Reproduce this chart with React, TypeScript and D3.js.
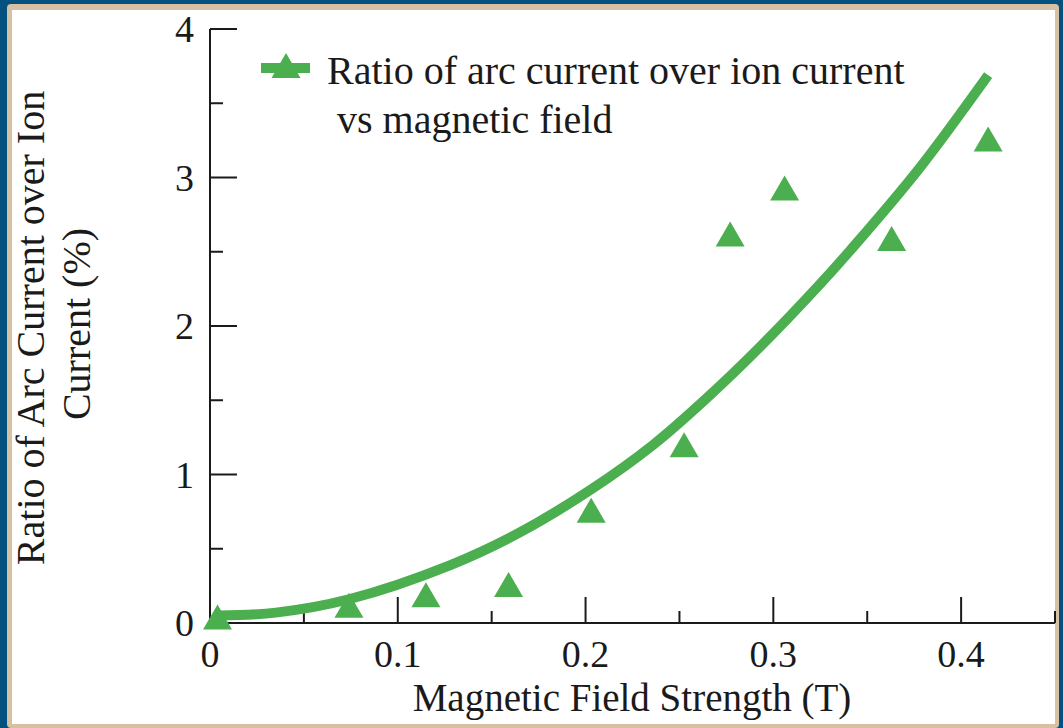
import * as d3 from 'd3'

// measured points: magnetic field (T) vs ratio (%)
const fieldT = [0.004, 0.074, 0.115, 0.159, 0.203, 0.2525, 0.277, 0.306, 0.363, 0.4144]
const ratioPct = [0.04, 0.12, 0.19, 0.26, 0.76, 1.2, 2.62, 2.93, 2.59, 3.26]

// trend line
const fitT = [0.005, 0.035, 0.074, 0.128, 0.165, 0.203, 0.236, 0.265, 0.293, 0.324, 0.341, 0.377, 0.4144]
const fitR = [0.05, 0.07, 0.16, 0.39, 0.61, 0.9, 1.2, 1.52, 1.86, 2.27, 2.51, 3.05, 3.69]

const xMajor = [0, 0.1, 0.2, 0.3, 0.4]
const xMinor = [0.05, 0.15, 0.25, 0.35, 0.45]
const yMajor = [0, 1, 2, 3, 4]
const yMinor = [0.5, 1.5, 2.5, 3.5]

const legendLines = ['Ratio of arc current over ion current', 'vs magnetic field']
const xTitle = 'Magnetic Field Strength (T)'
const yTitle = ['Ratio of Arc Current over Ion', 'Current (%)']

const W = 1063
const H = 728
const GREEN = '#4caf4f'
const INK = '#1a1a1a'
const FONT = '"Liberation Serif", "Times New Roman", serif'

const tri = (w: number, h: number) => `M0,${-h / 2}L${w / 2},${h / 2}L${-w / 2},${h / 2}Z`

export default function App() {
  const x = d3.scaleLinear().domain([0, 0.45]).range([210, 1055])
  const y = d3.scaleLinear().domain([0, 4]).range([623, 29])

  const pts = fieldT.map((t, i) => ({ t, r: ratioPct[i] }))
  const fit = fitT.map((t, i) => ({ t, r: fitR[i] }))
  const line = d3.line<{ t: number; r: number }>()
    .x(d => x(d.t)).y(d => y(d.r))
    .curve(d3.curveCatmullRom.alpha(0.5))

  const fmt = (d: number) => (d === 0 ? '0' : d3.format('.1f')(d))

  return (
    <svg width={W} height={H} style={{ position: 'absolute', left: 0, top: 0 }} fontFamily={FONT}>
      {/* frame */}
      <rect x={0} y={0} width={W} height={H} fill="#04507f" />
      <rect x={7} y={4} width={1052} height={H - 4} rx={4} fill="#d6c2a2" />
      <rect x={12} y={10} width={1043} height={714} fill="#ffffff" />

      {/* axes */}
      <g stroke={INK} strokeWidth={2} fill="none">
        <line x1={x(0)} x2={x(0.45)} y1={y(0)} y2={y(0)} />
        <line x1={x(0)} x2={x(0)} y1={y(0)} y2={y(4)} />
        {xMajor.filter(d => d > 0).map(d => (
          <line key={'xM' + d} x1={x(d)} x2={x(d)} y1={y(0)} y2={y(0) - 26} />
        ))}
        {xMinor.map(d => (
          <line key={'xm' + d} x1={x(d)} x2={x(d)} y1={y(0)} y2={y(0) - 12} />
        ))}
        {yMajor.filter(d => d > 0).map(d => (
          <line key={'yM' + d} x1={x(0)} x2={x(0) + 27} y1={y(d)} y2={y(d)} />
        ))}
        {yMinor.map(d => (
          <line key={'ym' + d} x1={x(0)} x2={x(0) + 13} y1={y(d)} y2={y(d)} />
        ))}
      </g>

      {/* tick labels */}
      <g fontSize={38} fill={INK}>
        {xMajor.map(d => (
          <text key={'xl' + d} x={x(d)} y={667} textAnchor="middle">{fmt(d)}</text>
        ))}
        {yMajor.map(d => (
          <text key={'yl' + d} x={194} y={y(d) + 13} textAnchor="end">{d}</text>
        ))}
      </g>

      {/* titles */}
      <text x={632} y={711} fontSize={39} fill={INK} textAnchor="middle">{xTitle}</text>
      <text transform="translate(44,328) rotate(-90)" fontSize={40} fill={INK} textAnchor="middle">{yTitle[0]}</text>
      <text transform="translate(90,324) rotate(-90)" fontSize={40} fill={INK} textAnchor="middle">{yTitle[1]}</text>

      {/* trend line */}
      <path d={line(fit) ?? ''} fill="none" stroke={GREEN} strokeWidth={10} />

      {/* points */}
      {pts.map((p, i) => (
        <path key={i} d={tri(29, 25)} transform={`translate(${x(p.t)},${y(p.r)})`} fill={GREEN} />
      ))}

      {/* legend */}
      <line x1={261} x2={310} y1={68} y2={68} stroke={GREEN} strokeWidth={10} />
      <path d={tri(29, 25)} transform="translate(286,65.5)" fill={GREEN} />
      <text x={327} y={84} fontSize={40} fill={INK}>{legendLines[0]}</text>
      <text x={337} y={133} fontSize={40} fill={INK}>{legendLines[1]}</text>
    </svg>
  )
}
